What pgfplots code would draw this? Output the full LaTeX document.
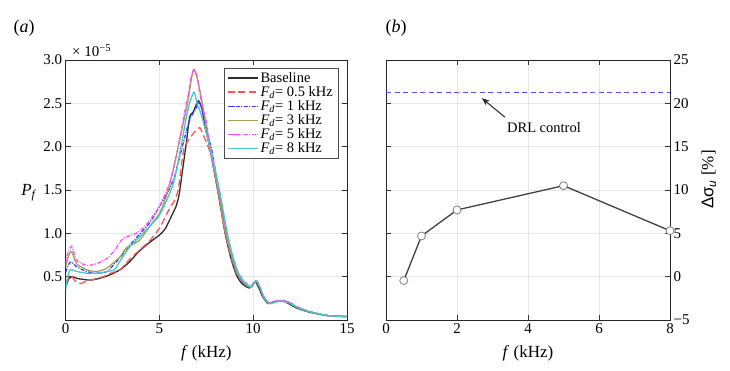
\documentclass[border=0pt]{standalone}
\usepackage{pgfplots}
\pgfplotsset{compat=1.18}
\usetikzlibrary{arrows.meta}
\usepackage{fontspec}
\setmainfont{Liberation Serif}
\newfontfamily\sansf{Liberation Sans}
\definecolor{cbase}{HTML}{2E2E2E}
\definecolor{cred}{HTML}{FF5555}
\definecolor{cblue}{HTML}{3C3CFF}
\definecolor{colive}{HTML}{A5A050}
\definecolor{cmag}{HTML}{FF4DFF}
\definecolor{ccyan}{HTML}{45C8C8}
\definecolor{cdrl}{HTML}{4D55FF}
\definecolor{cgridl}{HTML}{E6E6E6}
\pgfplotsset{
  mstyle/.style={
    /pgf/number format/assume math mode=true,
    scale only axis,
    tick align=inside,
    major tick length=5pt,
    tick style={draw=black!80, line width=0.6pt},
    axis line style={draw=black!85, line width=0.9pt},
    grid=major,
    major grid style={draw=cgridl, line width=0.6pt},
    tick label style={font=\fontsize{15}{18}\selectfont},
  },
}
\begin{document}
\begin{tikzpicture}[x=1pt,y=1pt]
\path[use as bounding box] (0,0) rectangle (730,370);
\node at (24,342) {\fontsize{18}{20}\selectfont(\textit{a})};
\node at (396,342) {\fontsize{18}{20}\selectfont(\textit{b})};
\begin{axis}[
  mstyle,
  at={(65.7pt,50pt)}, anchor=south west,
  width=281.3pt, height=260pt,
  xmin=0, xmax=15, ymin=0, ymax=3,
  xtick={0,5,10,15},
  ytick={0.5,1,1.5,2,2.5,3},
  yticklabels={0.5,1.0,1.5,2.0,2.5,3.0},
  xlabel={\textit{f} (kHz)},
  ylabel={\textit{P}\textsubscript{\textit{f}}},
  xlabel style={at={(rel axis cs:0.5,-0.127)}, anchor=center, font=\fontsize{17}{20}\selectfont},
  ylabel style={at={(rel axis cs:-0.13,0.49)}, anchor=center, rotate=-90, font=\fontsize{17}{20}\selectfont},
  legend style={at={(0.968,0.969)}, anchor=north east, draw=black!70, fill=white,
    font=\fontsize{14.5}{16}\selectfont, row sep=-1.5pt},
  legend cell align=left,
  legend image code/.code={\draw[mark repeat=2,mark phase=2,#1] plot coordinates {(0pt,0pt) (15pt,0pt) (30pt,0pt)};},
  every axis plot/.append style={line width=1.3pt, smooth, tension=0.4},
]
\addplot[cbase] coordinates {(0,0.38)(0.15,0.47)(0.35,0.50)(0.6,0.48)(0.9,0.47)(1.3,0.46)(1.8,0.48)(2.35,0.52)(2.9,0.58)(3.4,0.67)(3.9,0.79)(4.5,0.90)(5.0,0.98)(5.3,1.05)(5.6,1.18)(5.9,1.32)(6.05,1.45)(6.2,1.68)(6.43,2.04)(6.61,2.34)(6.8,2.40)(6.95,2.48)(7.08,2.53)(7.25,2.45)(7.45,2.22)(7.7,1.97)(8.1,1.50)(8.5,1.00)(8.8,0.72)(9.1,0.52)(9.4,0.42)(9.8,0.37)(10.1,0.44)(10.3,0.37)(10.5,0.27)(10.8,0.19)(11.1,0.21)(11.5,0.22)(11.8,0.20)(12.3,0.14)(13.0,0.09)(14.0,0.05)(15,0.04)};
\addlegendentry{Baseline}
\addplot[cred, dash pattern=on 7pt off 3.5pt] coordinates {(0,0.42)(0.15,0.48)(0.3,0.51)(0.5,0.45)(0.8,0.42)(1.1,0.45)(1.5,0.47)(2.0,0.50)(2.4,0.54)(2.9,0.58)(3.4,0.70)(3.9,0.80)(4.5,0.92)(5.0,1.06)(5.5,1.27)(5.8,1.38)(6.0,1.50)(6.15,1.75)(6.3,1.97)(6.5,2.06)(6.8,2.15)(7.14,2.22)(7.3,2.15)(7.5,2.05)(7.75,1.90)(8.1,1.52)(8.5,1.02)(8.8,0.74)(9.1,0.54)(9.45,0.43)(9.85,0.38)(10.15,0.45)(10.35,0.38)(10.55,0.27)(10.85,0.19)(11.2,0.21)(11.55,0.22)(11.9,0.20)(12.4,0.14)(13.1,0.09)(14.0,0.05)(15,0.04)};
\addlegendentry{\textit{F}\textsubscript{\textit{d}}= 0.5 kHz}
\addplot[cblue, dash pattern=on 4pt off 1.5pt on 1pt off 1.5pt] coordinates {(0,0.55)(0.15,0.64)(0.3,0.67)(0.55,0.62)(1.1,0.56)(1.65,0.54)(2.2,0.56)(2.9,0.72)(3.4,0.86)(3.9,0.98)(4.5,1.13)(5.0,1.31)(5.5,1.50)(5.8,1.65)(6.1,1.90)(6.35,2.11)(6.5,2.23)(6.67,2.34)(6.9,2.42)(7.13,2.51)(7.3,2.40)(7.5,2.20)(7.8,1.95)(8.15,1.50)(8.55,1.00)(8.85,0.73)(9.15,0.53)(9.5,0.42)(9.85,0.38)(10.15,0.45)(10.35,0.38)(10.55,0.27)(10.85,0.19)(11.2,0.21)(11.55,0.22)(11.9,0.20)(12.4,0.14)(13.1,0.09)(14.0,0.05)(15,0.04)};
\addlegendentry{\textit{F}\textsubscript{\textit{d}}= 1 kHz}
\addplot[colive] coordinates {(0,0.62)(0.15,0.74)(0.32,0.79)(0.58,0.65)(1.12,0.58)(1.65,0.56)(2.2,0.60)(2.9,0.73)(3.23,0.83)(3.94,0.92)(4.47,1.08)(5.0,1.23)(5.4,1.45)(5.7,1.70)(6.0,2.00)(6.3,2.30)(6.52,2.53)(6.7,2.78)(6.84,2.89)(7.0,2.80)(7.2,2.60)(7.4,2.35)(7.7,1.98)(8.1,1.52)(8.5,1.02)(8.85,0.74)(9.15,0.54)(9.5,0.43)(9.85,0.38)(10.15,0.45)(10.35,0.38)(10.55,0.27)(10.85,0.19)(11.2,0.21)(11.55,0.22)(11.9,0.20)(12.4,0.14)(13.1,0.09)(14.0,0.05)(15,0.04)};
\addlegendentry{\textit{F}\textsubscript{\textit{d}}= 3 kHz}
\addplot[cmag, dash pattern=on 4pt off 1.5pt on 1pt off 1.5pt] coordinates {(0,0.65)(0.1,0.77)(0.32,0.85)(0.58,0.69)(1.12,0.63)(1.65,0.65)(2.2,0.71)(2.6,0.80)(3.06,0.94)(3.76,1.00)(4.3,1.10)(5.0,1.31)(5.3,1.45)(5.6,1.62)(6.0,2.00)(6.3,2.35)(6.55,2.62)(6.7,2.82)(6.84,2.89)(7.0,2.82)(7.14,2.63)(7.3,2.45)(7.5,2.29)(7.77,1.90)(8.15,1.52)(8.55,1.03)(8.9,0.75)(9.2,0.55)(9.55,0.44)(9.9,0.39)(10.15,0.46)(10.35,0.39)(10.55,0.28)(10.85,0.20)(11.2,0.22)(11.55,0.23)(11.9,0.21)(12.4,0.15)(13.1,0.09)(14.0,0.05)(15,0.04)};
\addlegendentry{\textit{F}\textsubscript{\textit{d}}= 5 kHz}
\addplot[ccyan] coordinates {(0,0.35)(0.1,0.50)(0.25,0.58)(0.58,0.56)(1.12,0.54)(1.65,0.54)(2.2,0.56)(2.6,0.58)(2.9,0.68)(3.4,0.84)(3.94,0.96)(4.47,1.08)(5.0,1.21)(5.5,1.44)(5.8,1.62)(6.15,2.00)(6.4,2.30)(6.6,2.50)(6.84,2.63)(7.0,2.50)(7.15,2.42)(7.32,2.30)(7.68,2.00)(7.85,1.85)(8.2,1.50)(8.6,1.02)(8.9,0.74)(9.2,0.54)(9.55,0.43)(9.9,0.38)(10.15,0.45)(10.35,0.38)(10.55,0.27)(10.85,0.19)(11.2,0.21)(11.55,0.22)(11.9,0.20)(12.4,0.14)(13.1,0.09)(14.0,0.05)(15,0.04)};
\addlegendentry{\textit{F}\textsubscript{\textit{d}}= 8 kHz}
\end{axis}
\node[anchor=base west, inner sep=0pt] at (72,313) {\fontsize{15}{17}\selectfont × 10\textsuperscript{−5}};
\begin{axis}[
  mstyle,
  at={(386pt,50pt)}, anchor=south west,
  width=284pt, height=260pt,
  xmin=0, xmax=8, ymin=-5, ymax=25,
  xtick={0,2,4,6,8},
  ytick={-5,0,5,10,15,20,25},
  yticklabels={−5,0,5,10,15,20,25},
  yticklabel pos=right,
  xlabel={\textit{f} (kHz)},
  ylabel={{\sansf Δσ\textsubscript{\textit{u}}} [\%]},
  xlabel style={at={(rel axis cs:0.5,-0.127)}, anchor=center, font=\fontsize{17}{20}\selectfont},
  ylabel style={at={(rel axis cs:1.137,0.54)}, anchor=center, rotate=0, font=\fontsize{17}{20}\selectfont},
  clip=false,
]
\addplot[cdrl, line width=1pt, dash pattern=on 5pt off 3.5pt] coordinates {(0,21.2)(8,21.2)};
\addplot[black!75, line width=1.3pt, mark=*, mark size=4pt, mark options={fill=white, draw=black!50, line width=0.8pt}] coordinates {(0.5,-0.45)(1,4.7)(2,7.7)(5,10.5)(8,5.3)};
\draw[-{Stealth[length=8pt,width=6pt]}, line width=1pt, black!85] (axis cs:3.35,18.4) -- (axis cs:2.7,20.6);
\node[font=\fontsize{14.5}{16}\selectfont] at (axis cs:4.45,17.2) {DRL control};
\end{axis}
\end{tikzpicture}
\end{document}
